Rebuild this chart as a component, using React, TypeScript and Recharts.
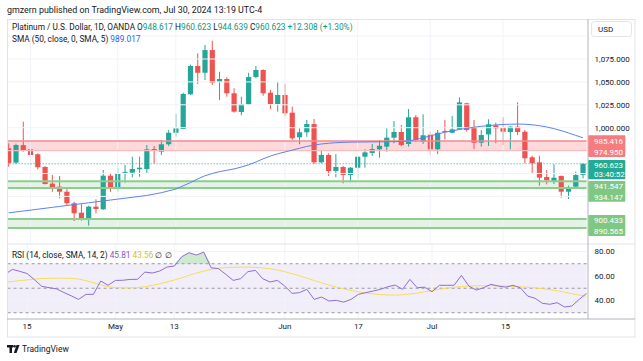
import { Area, Bar, ComposedChart, Line, ReferenceArea, ReferenceLine, XAxis, YAxis } from "recharts";

// daily candles, Apr 10 .. Jul 30 2024 (OANDA XPTUSD)
const opens = [
  977.5, 961.8, 981.0, 976.4, 971.0, 957.1, 938.9, 935.6, 930.1, 917.5,
  907.2, 899.2, 913.8, 910.9, 947.6, 933.4, 951.3, 950.9, 954.6, 954.9,
  976.7, 973.8, 981.9, 994.5, 998.6, 1036.5, 1067.4, 1060.0, 1084.8, 1050.2,
  1053.2, 1037.6, 1017.1, 1025.5, 1055.3, 1063.0, 1038.2, 1025.9, 1035.7, 1016.4,
  989.5, 995.0, 1004.0, 962.2, 970.2, 952.7, 957.1, 948.4, 956.3, 968.3,
  972.4, 976.4, 979.3, 989.1, 995.3, 982.2, 1011.4, 984.7, 992.4, 976.4,
  996.4, 994.5, 998.2, 1026.6, 999.7, 983.6, 992.7, 1002.6, 1000.0, 995.3,
  1001.1, 995.6, 967.7, 962.2, 946.2, 941.5, 947.3, 930.1, 935.6, 948.617,
];
const highs = [
  983.0, 982.5, 1006.6, 984.7, 972.0, 958.0, 948.4, 947.3, 933.8, 919.2,
  916.7, 914.8, 921.8, 953.8, 950.2, 956.4, 959.3, 968.3, 968.3, 981.1,
  980.0, 986.6, 997.5, 1015.0, 1038.2, 1068.8, 1081.2, 1090.3, 1095.0, 1061.1,
  1055.0, 1043.0, 1033.8, 1060.0, 1067.4, 1063.8, 1041.2, 1049.6, 1047.7, 1022.9,
  999.3, 1008.4, 1009.5, 974.6, 972.0, 971.2, 958.2, 957.1, 969.1, 976.4,
  982.2, 986.6, 999.3, 1007.3, 1003.0, 1020.4, 1013.9, 1014.6, 995.6, 997.5,
  1008.4, 1012.8, 1033.2, 1027.3, 1008.4, 997.5, 1009.2, 1005.5, 1011.4, 1001.9,
  1027.7, 997.5, 969.4, 969.4, 953.8, 960.0, 947.8, 936.7, 952.0, 960.623,
];
const lows = [
  957.4, 960.5, 973.8, 958.2, 954.6, 938.0, 930.1, 922.9, 914.5, 898.1,
  898.5, 893.0, 906.5, 910.2, 930.1, 930.1, 940.0, 945.9, 946.5, 950.2,
  961.1, 970.2, 980.0, 990.2, 998.2, 1035.7, 1047.7, 1052.1, 1046.6, 1030.2,
  1033.8, 1016.4, 1013.5, 1024.8, 1053.9, 1034.9, 1020.4, 1017.5, 1012.8, 986.6,
  981.9, 990.2, 960.4, 961.1, 947.3, 945.9, 939.3, 940.4, 943.7, 956.3,
  969.1, 967.2, 973.8, 983.0, 980.0, 979.3, 984.7, 982.2, 970.2, 971.2,
  987.3, 993.9, 997.5, 995.6, 976.7, 979.3, 980.0, 983.0, 981.1, 976.4,
  992.0, 961.1, 950.2, 936.7, 938.2, 938.5, 923.6, 922.2, 933.8, 944.639,
];
const closes = [
  961.5, 981.1, 975.7, 970.2, 956.8, 938.5, 934.9, 930.1, 917.5, 906.5,
  899.2, 913.8, 911.2, 947.6, 933.1, 950.2, 951.8, 954.9, 956.3, 976.4,
  974.6, 981.9, 994.5, 999.3, 1036.8, 1067.4, 1060.0, 1084.8, 1049.1, 1053.2,
  1037.6, 1017.5, 1025.5, 1055.3, 1063.0, 1037.6, 1025.9, 1035.7, 1015.7, 988.4,
  995.0, 1004.0, 962.2, 970.2, 952.7, 957.1, 948.4, 956.3, 968.3, 973.1,
  976.7, 980.3, 989.1, 995.3, 981.1, 1011.4, 986.6, 991.7, 976.4, 994.5,
  995.3, 998.2, 1027.7, 997.5, 983.6, 992.0, 1003.7, 999.3, 995.6, 1001.1,
  995.3, 966.6, 961.1, 945.4, 942.6, 945.4, 930.1, 933.8, 948.3, 960.623,
];
const sma50 = [
  907, 908, 909, 910, 911, 912, 913, 914, 915, 916,
  917, 918, 919, 920, 921, 922, 923, 924, 925, 926,
  927.5, 929, 931, 933, 936.5, 940, 944, 947.5, 950, 952,
  953.5, 955, 957, 959.5, 962.5, 966, 969, 971.5, 973.5, 975.5,
  977.5, 979.5, 981, 982.2, 983, 983.6, 984, 984.2, 984.3, 984.4,
  984.5, 984.6, 984.7, 984.8, 985, 985.5, 987, 989, 991, 993,
  995, 996.5, 998, 999.3, 1000.5, 1001.5, 1002.3, 1003, 1003.5, 1003.8,
  1004, 1003.8, 1003.2, 1002.2, 1000.8, 999, 996.8, 994.3, 991.6, 989.017,
];
const rsi = [
  61.3, 65.4, 63.8, 62.0, 57.0, 51.5, 50.5, 49.5, 46.5, 43.8,
  40.9, 45.0, 45.0, 55.9, 52.4, 56.4, 56.5, 57.2, 57.3, 63.2,
  62.4, 64.0, 67.3, 68.1, 75.7, 79.0, 77.1, 79.5, 66.7, 66.0,
  61.3, 56.4, 57.8, 63.5, 64.6, 57.8, 55.1, 56.4, 51.8, 45.8,
  46.4, 49.1, 40.9, 42.8, 39.6, 40.1, 38.7, 40.9, 45.0, 46.4,
  47.7, 49.1, 51.2, 52.6, 49.1, 57.2, 50.4, 50.9, 47.1, 52.4,
  52.4, 52.4, 60.5, 51.8, 48.5, 50.4, 53.2, 51.8, 50.9, 52.4,
  50.4, 43.6, 41.8, 37.7, 36.9, 38.2, 34.7, 35.5, 40.9, 45.81,
];
const rsiMa = [
  54.8, 55.5, 56.2, 56.8, 57.4, 57.9, 58.1, 58.2, 58.2, 58.0,
  57.5, 56.2, 54.5, 52.8, 51.3, 50.6, 50.3, 50.3, 50.5, 51.2,
  52.3, 53.6, 55.1, 56.7, 58.5, 60.5, 62.4, 64.0, 65.4, 66.3,
  66.8, 67.1, 67.2, 67.2, 67.0, 66.6, 65.9, 64.9, 63.5, 61.9,
  60.1, 58.2, 56.3, 54.4, 52.6, 51.0, 49.5, 48.2, 47.1, 46.1,
  45.4, 44.8, 44.5, 44.4, 44.7, 45.3, 46.1, 47.1, 48.1, 49.1,
  50.0, 50.8, 51.4, 51.8, 52.0, 52.1, 52.1, 52.0, 51.8, 51.5,
  51.2, 50.8, 50.3, 49.6, 48.8, 47.9, 46.8, 45.5, 44.4, 43.56,
];

const dateTicks: Record<number, string> = { 3: "15", 15: "May", 23: "13", 38: "Jun", 48: "17", 58: "Jul", 68: "15" };
const priceTicks = [1000, 1025, 1050, 1075];
const priceGrid = [900, 925, 950, 975, 1000, 1025, 1050, 1075, 1100];
const rsiTicks = [40, 60, 80];
const resistance = [974.95, 985.416];
const supports = [
  [934.147, 941.547],
  [890.565, 900.433],
];
const lastPrice = 960.623;

const data = opens.map((o, i) => ({
  i,
  o,
  h: highs[i],
  l: lows[i],
  c: closes[i],
  sma: sma50[i],
  rsi: rsi[i],
  rsiMa: rsiMa[i],
}));

const UP = "#26a69a";
const DOWN = "#ef5350";
const FONT = "Roboto, 'Noto Sans', sans-serif";
const TXT = "#131722";

const Candle = (props: any) => {
  const { x, y, width, height, payload } = props;
  if (!payload) return null;
  const { o, h, l, c } = payload;
  const color = c >= o ? UP : DOWN;
  const top = Math.min(y, y + height);
  const bot = Math.max(y, y + height);
  const k = (bot - top) / (h - l);
  const yOf = (v: number) => top + (h - v) * k;
  const cx = x + width / 2;
  const bTop = yOf(Math.max(o, c));
  const bBot = yOf(Math.min(o, c));
  const bw = 5.2;
  return (
    <g>
      <line x1={cx} x2={cx} y1={top} y2={bot} stroke={color} strokeWidth={1} />
      <rect x={cx - bw / 2} y={bTop} width={bw} height={Math.max(1, bBot - bTop)} fill={color} />
    </g>
  );
};

const fmtPrice = (v: number) =>
  v.toLocaleString("en-US", { minimumFractionDigits: 3, maximumFractionDigits: 3 });

const CHART_W = 629.9;
const AXIS_W = 48.3;

const vGrid = Object.keys(dateTicks).map((k) => Number(k));

function PricePane() {
  return (
    <ComposedChart width={CHART_W} height={225} data={data} margin={{ top: 0, right: 0, bottom: 0, left: 0 }}>
      <XAxis dataKey="i" type="category" hide />
      <YAxis
        orientation="right"
        type="number"
        width={AXIS_W}
        domain={[873, 1118.7]}
        allowDataOverflow
        ticks={priceTicks}
        tickFormatter={fmtPrice}
        axisLine={false}
        tickLine={false}
        tick={{ fontSize: 8, fill: TXT, fontFamily: FONT }}
      />
      {priceGrid.map((v) => (
        <ReferenceLine key={"g" + v} y={v} stroke="#f0f3fa" />
      ))}
      {vGrid.map((v) => (
        <ReferenceLine key={"v" + v} x={v} stroke="#f0f3fa" />
      ))}
      <ReferenceArea y1={resistance[0]} y2={resistance[1]} fill="#f7525f" fillOpacity={0.22} stroke="none" />
      <ReferenceLine y={resistance[1]} stroke="#f28b8f" strokeWidth={1.5} />
      <ReferenceLine y={resistance[0]} stroke="#f9b3b5" strokeWidth={1} />
      {supports.map(([a, b]) => (
        <ReferenceArea key={"s" + a} y1={a} y2={b} fill="#81c784" fillOpacity={0.22} stroke="none" />
      ))}
      {supports.flat().map((v) => (
        <ReferenceLine key={"sl" + v} y={v} stroke="#8fcc92" strokeWidth={2} />
      ))}
      <ReferenceLine y={lastPrice} stroke={UP} strokeDasharray="1 2" />
      <Line dataKey="sma" stroke="#5b80f5" strokeWidth={1} dot={false} isAnimationActive={false} />
      <Bar dataKey={(d: any) => [d.l, d.h]} shape={Candle} isAnimationActive={false} />
    </ComposedChart>
  );
}

function RsiPane() {
  return (
    <ComposedChart width={CHART_W} height={93} data={data} margin={{ top: 0, right: 0, bottom: 0, left: 0 }}>
      <XAxis
        dataKey="i"
        type="category"
        interval={0}
        height={18}
        axisLine={false}
        tickLine={false}
        tickSize={3}
        tickMargin={1}
        tickFormatter={(v: any) => dateTicks[Number(v)] ?? ""}
        tick={{ fontSize: 8, fill: TXT, fontFamily: FONT }}
      />
      <YAxis
        orientation="right"
        type="number"
        width={AXIS_W}
        domain={[24.9, 86.1]}
        allowDataOverflow
        ticks={rsiTicks}
        tickFormatter={(v: number) => v.toFixed(2)}
        axisLine={false}
        tickLine={false}
        tick={{ fontSize: 8, fill: TXT, fontFamily: FONT }}
      />
      {vGrid.map((v) => (
        <ReferenceLine key={"v" + v} x={v} stroke="#f0f3fa" />
      ))}
      {rsiTicks.map((v) => (
        <ReferenceLine key={"g" + v} y={v} stroke="#f0f3fa" />
      ))}
      <ReferenceArea y1={30} y2={70} fill="#7e57c2" fillOpacity={0.1} stroke="none" />
      {[70, 50, 30].map((v) => (
        <ReferenceLine key={"d" + v} y={v} stroke="#9598a1" strokeDasharray="3 3" />
      ))}
      <Area
        dataKey={(d: any) => [70, Math.max(70, d.rsi)]}
        type="linear"
        stroke="none"
        fill="#4caf50"
        fillOpacity={0.28}
        isAnimationActive={false}
      />
      <Line dataKey="rsiMa" stroke="#f5dd5a" strokeWidth={1} dot={false} isAnimationActive={false} />
      <Line dataKey="rsi" stroke="#8e6cd0" strokeWidth={1} dot={false} isAnimationActive={false} />
    </ComposedChart>
  );
}

function AxisBox({ y, h, fill, lines }: { y: number; h: number; fill: string; lines: string[] }) {
  return (
    <g>
      <rect x={588.3} y={y} width={37} height={h} fill={fill} rx={1} />
      {lines.map((t, k) => (
        <text key={t} x={594} y={y + (h / lines.length) * (k + 0.5) + 3} fontSize={8} fill="#fff" fontFamily={FONT}>
          {t}
        </text>
      ))}
    </g>
  );
}

export default function App() {
  const teal = "#089981";
  return (
    <div style={{ position: "relative", width: 643, height: 361, background: "#fff", overflow: "hidden" }}>
      <style>{"body{margin:0}"}</style>
      <div style={{ position: "absolute", left: 7, top: 19, width: 628, height: 225, overflow: "hidden" }}>
        <div style={{ position: "absolute", left: -1.93, top: 0 }}>
          <PricePane />
        </div>
      </div>
      <div style={{ position: "absolute", left: 7, top: 244, width: 628, height: 93, overflow: "hidden" }}>
        <div style={{ position: "absolute", left: -1.93, top: 0 }}>
          <RsiPane />
        </div>
      </div>
      <svg
        width={643}
        height={361}
        style={{ position: "absolute", left: 0, top: 0, pointerEvents: "none" }}
        fontFamily={FONT}
      >
        <text x={7} y={12.5} fontSize={8.9} fill={TXT}>
          gmzern published on TradingView.com, Jul 30, 2024 13:19 UTC-4
        </text>
        <rect x={7.5} y={19.5} width={627.5} height={317.5} fill="none" stroke="#e0e3eb" />
        <line x1={7} x2={635} y1={244} y2={244} stroke="#e0e3eb" />
        <line x1={7} x2={635} y1={319} y2={319} stroke="#b2b5be" />
        <line x1={588} x2={588} y1={19} y2={319} stroke="#b2b5be" />
        <text x={12} y={29.5} fontSize={8.3} fill={TXT}>
          Platinum / U.S. Dollar, 1D, OANDA O<tspan fill={teal}>948.617</tspan> H
          <tspan fill={teal}>960.623</tspan> L<tspan fill={teal}>944.639</tspan> C
          <tspan fill={teal}>960.623</tspan> <tspan fill={teal}>+12.308 (+1.30%)</tspan>
        </text>
        <text x={12} y={42} fontSize={8.3} fill={TXT}>
          SMA (50, close, 0, SMA, 5) <tspan fill="#2962ff">989.017</tspan>
        </text>
        <text x={12} y={258} fontSize={8.3} fill={TXT}>
          RSI (14, close, SMA, 14, 2) <tspan fill="#7e57c2">45.81</tspan> <tspan fill="#d9c21a">43.56</tspan> ∅ ∅
        </text>
        <rect x={591.5} y={21.5} width={40} height={15} rx={3} fill="#fff" stroke="#e0e3eb" />
        <text x={598} y={32} fontSize={8} fill={TXT}>
          USD
        </text>
        <AxisBox y={135.3} h={21.7} fill="#f77c80" lines={["985.416", "974.950"]} />
        <AxisBox y={160} h={19.3} fill="#22ab94" lines={["960.623", "03:40:52"]} />
        <AxisBox y={181} h={20.7} fill="#81c784" lines={["941.547", "934.147"]} />
        <AxisBox y={215} h={21} fill="#81c784" lines={["900.433", "890.565"]} />
        <g fill={TXT}>
          <rect x={7} y={345} width={6} height={2.5} />
          <rect x={9.5} y={345} width={2.5} height={8} />
          <circle cx={14.5} cy={346.3} r={1.3} />
          <polygon points="16.5,345 19.5,345 16.5,353 13.8,353" />
        </g>
        <text x={22} y={352} fontSize={8.5} fill={TXT}>
          TradingView
        </text>
      </svg>
    </div>
  );
}
